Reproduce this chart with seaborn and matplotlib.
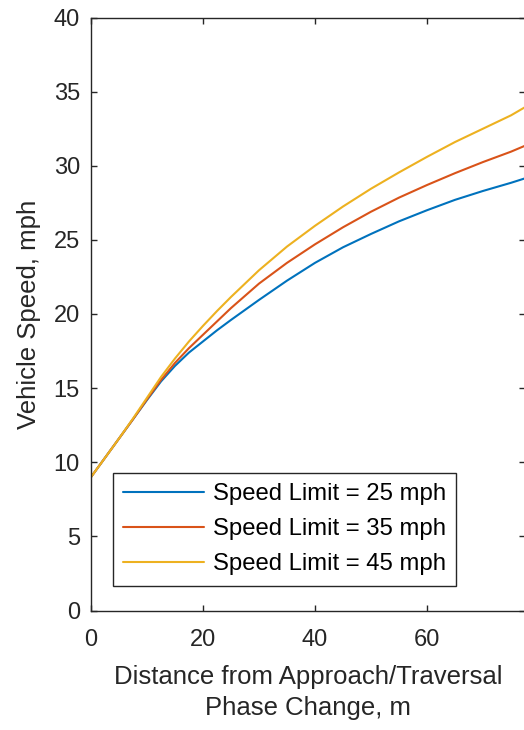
import numpy as np
import pandas as pd
import seaborn as sns
import matplotlib.pyplot as plt

# distance from phase change (m)
distance = [0, 2.5, 5, 7.5, 10, 12.5, 15, 17.5, 20, 22.5, 25, 30, 35, 40,
            45, 50, 55, 60, 65, 70, 75, 77.5]

# vehicle speed (mph) for each speed limit
speed_25 = [9.0, 10.3, 11.6, 12.9, 14.2, 15.45, 16.5, 17.4, 18.15, 18.9, 19.6,
            20.95, 22.25, 23.45, 24.5, 25.4, 26.25, 27.0, 27.7, 28.3, 28.85, 29.15]
speed_35 = [9.0, 10.3, 11.6, 12.9, 14.25, 15.55, 16.7, 17.7, 18.6, 19.5, 20.4,
            22.05, 23.45, 24.7, 25.85, 26.9, 27.85, 28.7, 29.5, 30.25, 30.95, 31.35]
speed_45 = [9.0, 10.3, 11.6, 12.95, 14.35, 15.75, 17.0, 18.15, 19.2, 20.2, 21.15,
            22.95, 24.55, 25.95, 27.25, 28.45, 29.55, 30.6, 31.6, 32.5, 33.4, 33.95]

labels = ['Speed Limit = 25 mph', 'Speed Limit = 35 mph', 'Speed Limit = 45 mph']
colors = ['#0072BD', '#D95319', '#EDB120']

df = pd.concat([
    pd.DataFrame({'distance': distance, 'speed': s, 'limit': lab})
    for s, lab in zip([speed_25, speed_35, speed_45], labels)
])

sns.set_style('ticks')
plt.rcParams['font.family'] = ['Liberation Sans', 'DejaVu Sans']
ink = '#262626'

fig = plt.figure(figsize=(5.24, 7.30), dpi=100)
ax = fig.add_axes([91 / 524, (730 - 610.5) / 730, 434 / 524, 593 / 730])

sns.lineplot(data=df, x='distance', y='speed', hue='limit',
             palette=colors, linewidth=1.5, ax=ax, sort=False)

ax.set_xlim(0, 77.5)
ax.set_ylim(0, 40)
ax.set_xticks([0, 20, 40, 60])
ax.set_yticks(np.arange(0, 41, 5))
ax.tick_params(direction='in', length=4.5, width=1.0, colors=ink,
               labelsize=17, top=True, right=True)
ax.tick_params(axis='x', pad=13.5)
ax.tick_params(axis='y', pad=8)
for sp in ax.spines.values():
    sp.set_visible(True)
    sp.set_color(ink)
    sp.set_linewidth(1.0)

ax.set_xlabel('Distance from Approach/Traversal\nPhase Change, m',
              fontsize=18.5, color=ink, labelpad=10, linespacing=1.35)
ax.set_ylabel('Vehicle Speed, mph', fontsize=18.5, color=ink, labelpad=9)

handles, _ = ax.get_legend_handles_labels()
leg = ax.legend(handles, labels, loc='lower left',
                bbox_to_anchor=(22 / 434, 25 / 593), borderaxespad=0,
                fontsize=17.2, handlelength=3.4, handletextpad=0.35,
                labelspacing=0.55, borderpad=0.42, fancybox=False,
                framealpha=1, edgecolor=ink)
leg.get_frame().set_linewidth(1.0)
for t in leg.get_texts():
    t.set_color('black')

fig.savefig('out.png', dpi=100)
